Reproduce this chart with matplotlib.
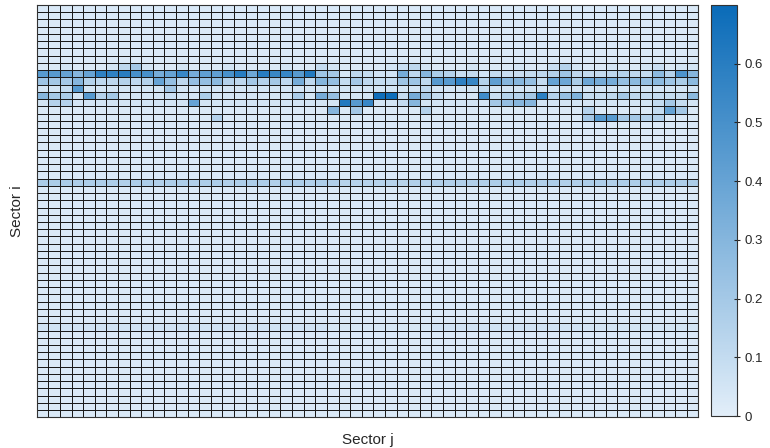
import matplotlib.pyplot as plt
import numpy as np
from matplotlib.colors import LinearSegmentedColormap

plt.rcParams['font.family'] = ['Liberation Sans', 'DejaVu Sans']

n_sectores = 57
nivel_base = 0.025  # valor casi nulo de la mayoria de celdas

# filas destacadas (indice de fila -> valores por columna)
fila_8 = [0.03, 0.03, 0.05, 0.03, 0.03, 0.03, 0.05, 0.12, 0.20, 0.05, 0.03, 0.03, 0.05, 0.03, 0.03, 0.03,
          0.05, 0.03, 0.03, 0.03, 0.03, 0.05, 0.03, 0.03, 0.10, 0.05, 0.03, 0.03, 0.03, 0.03, 0.05, 0.08,
          0.12, 0.05, 0.03, 0.03, 0.03, 0.05, 0.03, 0.03, 0.03, 0.05, 0.03, 0.03, 0.08, 0.15, 0.05, 0.03,
          0.03, 0.05, 0.03, 0.03, 0.05, 0.08, 0.03, 0.05, 0.05]
fila_9 = [0.45, 0.45, 0.40, 0.30, 0.40, 0.58, 0.58, 0.60, 0.50, 0.50, 0.35, 0.40, 0.55, 0.35, 0.42, 0.42,
          0.50, 0.60, 0.38, 0.60, 0.55, 0.55, 0.45, 0.62, 0.22, 0.20, 0.04, 0.12, 0.10, 0.06, 0.06, 0.35,
          0.12, 0.30, 0.18, 0.15, 0.08, 0.10, 0.06, 0.10, 0.08, 0.08, 0.10, 0.12, 0.15, 0.22, 0.12, 0.10,
          0.10, 0.12, 0.15, 0.12, 0.10, 0.28, 0.15, 0.48, 0.30]
fila_10 = [0.22, 0.20, 0.20, 0.30, 0.15, 0.12, 0.12, 0.15, 0.12, 0.15, 0.40, 0.25, 0.12, 0.25, 0.25, 0.28,
           0.15, 0.12, 0.20, 0.15, 0.20, 0.12, 0.35, 0.12, 0.30, 0.25, 0.10, 0.20, 0.12, 0.10, 0.10, 0.22,
           0.22, 0.12, 0.45, 0.45, 0.58, 0.55, 0.15, 0.42, 0.30, 0.30, 0.25, 0.10, 0.40, 0.38, 0.18, 0.38,
           0.35, 0.35, 0.25, 0.28, 0.25, 0.28, 0.22, 0.18, 0.28]
fila_11 = [0.05, 0.05, 0.10, 0.45, 0.05, 0.05, 0.05, 0.05, 0.05, 0.05, 0.05, 0.20, 0.05, 0.05, 0.05, 0.05,
           0.05, 0.05, 0.05, 0.05, 0.05, 0.05, 0.05, 0.05, 0.05, 0.05, 0.05, 0.05, 0.05, 0.05, 0.05, 0.05,
           0.05, 0.12, 0.05, 0.05, 0.05, 0.05, 0.10, 0.05, 0.05, 0.05, 0.05, 0.05, 0.05, 0.05, 0.05, 0.05,
           0.05, 0.05, 0.05, 0.05, 0.05, 0.05, 0.05, 0.05, 0.05]
fila_12 = [0.30, 0.20, 0.18, 0.05, 0.45, 0.15, 0.20, 0.05, 0.05, 0.05, 0.05, 0.08, 0.05, 0.05, 0.18, 0.05,
           0.05, 0.05, 0.05, 0.05, 0.05, 0.05, 0.18, 0.05, 0.35, 0.25, 0.05, 0.05, 0.05, 0.68, 0.68, 0.10,
           0.35, 0.20, 0.10, 0.05, 0.05, 0.05, 0.52, 0.08, 0.15, 0.15, 0.20, 0.58, 0.15, 0.25, 0.32, 0.10,
           0.10, 0.12, 0.20, 0.12, 0.10, 0.10, 0.10, 0.10, 0.28]
fila_13 = [0.05, 0.15, 0.15, 0.05, 0.05, 0.05, 0.05, 0.05, 0.05, 0.05, 0.05, 0.05, 0.05, 0.40, 0.05, 0.05,
           0.05, 0.05, 0.05, 0.05, 0.05, 0.05, 0.05, 0.05, 0.05, 0.05, 0.62, 0.45, 0.55, 0.05, 0.05, 0.10,
           0.30, 0.05, 0.05, 0.05, 0.05, 0.05, 0.05, 0.20, 0.25, 0.30, 0.30, 0.05, 0.05, 0.05, 0.05, 0.05,
           0.05, 0.05, 0.05, 0.05, 0.05, 0.10, 0.20, 0.10, 0.05]
fila_14 = [0.03, 0.03, 0.03, 0.03, 0.03, 0.03, 0.03, 0.03, 0.03, 0.03, 0.03, 0.03, 0.03, 0.03, 0.03, 0.03,
           0.03, 0.03, 0.03, 0.03, 0.03, 0.03, 0.03, 0.03, 0.03, 0.30, 0.03, 0.20, 0.03, 0.03, 0.03, 0.03,
           0.03, 0.15, 0.03, 0.03, 0.03, 0.03, 0.03, 0.03, 0.03, 0.03, 0.03, 0.03, 0.03, 0.03, 0.03, 0.15,
           0.03, 0.03, 0.03, 0.03, 0.03, 0.10, 0.40, 0.20, 0.03]
fila_15 = [0.03, 0.03, 0.03, 0.03, 0.03, 0.03, 0.03, 0.03, 0.03, 0.03, 0.03, 0.03, 0.03, 0.03, 0.03, 0.15,
           0.03, 0.03, 0.03, 0.03, 0.03, 0.03, 0.03, 0.03, 0.03, 0.03, 0.03, 0.03, 0.03, 0.03, 0.03, 0.03,
           0.03, 0.03, 0.03, 0.03, 0.03, 0.03, 0.03, 0.03, 0.03, 0.03, 0.03, 0.03, 0.03, 0.03, 0.03, 0.20,
           0.45, 0.45, 0.20, 0.20, 0.15, 0.15, 0.03, 0.03, 0.03]
fila_24 = [0.18, 0.18, 0.18, 0.17, 0.17, 0.17, 0.17, 0.16, 0.17, 0.17, 0.16, 0.17, 0.17, 0.16, 0.17, 0.17,
           0.16, 0.17, 0.17, 0.17, 0.16, 0.17, 0.17, 0.16, 0.17, 0.16, 0.14, 0.14, 0.14, 0.14, 0.14, 0.14,
           0.16, 0.14, 0.16, 0.16, 0.16, 0.16, 0.16, 0.17, 0.17, 0.17, 0.16, 0.16, 0.17, 0.16, 0.16, 0.17,
           0.17, 0.16, 0.17, 0.17, 0.16, 0.17, 0.17, 0.17, 0.18]
fila_44 = [0.06, 0.06, 0.06, 0.06, 0.06, 0.06, 0.06, 0.06, 0.06, 0.06, 0.06, 0.06, 0.06, 0.06, 0.06, 0.06,
           0.06, 0.06, 0.06, 0.06, 0.06, 0.06, 0.06, 0.06, 0.06, 0.04, 0.04, 0.04, 0.04, 0.04, 0.04, 0.04,
           0.04, 0.04, 0.06, 0.06, 0.06, 0.06, 0.06, 0.06, 0.06, 0.06, 0.06, 0.06, 0.06, 0.06, 0.06, 0.05,
           0.05, 0.05, 0.05, 0.05, 0.05, 0.05, 0.05, 0.05, 0.05]

filas = {8: fila_8, 9: fila_9, 10: fila_10, 11: fila_11, 12: fila_12, 13: fila_13,
         14: fila_14, 15: fila_15, 24: fila_24, 44: fila_44}

matriz = np.full((n_sectores, n_sectores), nivel_base)
for i, valores in filas.items():
    matriz[i, :] = valores

# mapa de color azul claro -> azul
azules = LinearSegmentedColormap.from_list('azules', ['#e2eef9', '#0a6bb8'])

fig = plt.figure(figsize=(7.7, 4.48), dpi=100)
ax = fig.add_axes([0.0477, 0.0685, 0.8593, 0.9203])
cax = fig.add_axes([0.923, 0.0714, 0.0338, 0.9175])

malla = ax.pcolormesh(matriz, cmap=azules, vmin=0, vmax=0.70,
                      edgecolors='#1a1a1a', linewidth=0.7)
ax.set_xlim(0, n_sectores)
ax.set_ylim(n_sectores, 0)
ax.set_xticks([])
ax.set_yticks([])
for s in ax.spines.values():
    s.set_color('#333333')
ax.set_xlabel('Sector j', fontsize=11, color='#262626', labelpad=11)
ax.set_ylabel('Sector i', fontsize=11, color='#262626', labelpad=9)

cb = fig.colorbar(malla, cax=cax, ticks=[0, 0.1, 0.2, 0.3, 0.4, 0.5, 0.6])
cb.ax.set_yticklabels(['0', '0.1', '0.2', '0.3', '0.4', '0.5', '0.6'])
cb.ax.tick_params(direction='inout', length=5, width=0.8, labelsize=9.5,
                  colors='#262626', pad=3)
cb.outline.set_edgecolor('#333333')
cb.outline.set_linewidth(0.8)

fig.savefig('out.png', dpi=100)
